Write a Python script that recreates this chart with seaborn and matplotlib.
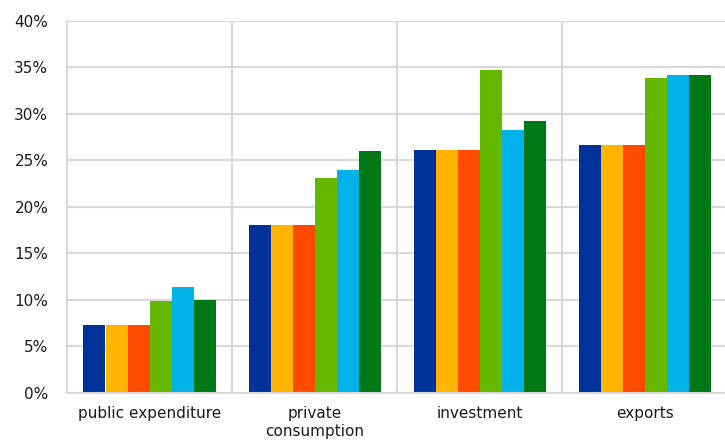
import matplotlib
matplotlib.use("Agg")
import matplotlib.pyplot as plt
import seaborn as sns
import pandas as pd
from matplotlib.ticker import FuncFormatter, MultipleLocator

categories = ["public expenditure", "private\nconsumption", "investment", "exports"]
series = ["s1", "s2", "s3", "s4", "s5", "s6"]
values = {
    "s1": [7.3, 18.0, 26.1, 26.6],
    "s2": [7.3, 18.0, 26.1, 26.6],
    "s3": [7.3, 18.0, 26.1, 26.6],
    "s4": [9.8, 23.1, 34.7, 33.9],
    "s5": [11.4, 24.0, 28.3, 34.2],
    "s6": [10.0, 26.0, 29.2, 34.2],
}
colors = ["#003299", "#FFB400", "#FF4B00", "#65B800", "#00B1EA", "#007816"]

rows = []
for s in series:
    for c, v in zip(categories, values[s]):
        rows.append({"category": c, "series": s, "value": v})
df = pd.DataFrame(rows)

sns.set_style("white")
plt.rcParams["font.family"] = ["DejaVu Sans"]

fig = plt.figure(figsize=(7.25, 4.44), dpi=100)
ax = fig.add_axes([67 / 725, (444 - 392.5) / 444, 660 / 725, 371.5 / 444])

sns.barplot(data=df, x="category", y="value", hue="series", order=categories,
            hue_order=series, palette=colors, width=0.8, saturation=1,
            ax=ax, legend=False, linewidth=0)

ax.set_ylim(0, 40)
ax.set_xlim(-0.5, 3.5)
ax.yaxis.set_major_locator(MultipleLocator(5))
ax.yaxis.set_major_formatter(FuncFormatter(lambda v, p: f"{int(v)}%"))
ax.set_axisbelow(True)
ax.grid(axis="y", color="#d9d9d9", linewidth=1.5)
for xb in [0.5, 1.5, 2.5]:
    ax.axvline(xb, color="#d9d9d9", linewidth=1.5, zorder=0)
for side in ["top", "right"]:
    ax.spines[side].set_visible(False)
for side in ["left", "bottom"]:
    ax.spines[side].set_color("#d9d9d9")
    ax.spines[side].set_linewidth(1.5)
ax.tick_params(axis="both", length=0, labelsize=11, colors="#1a1a1a")
ax.tick_params(axis="y", pad=13.5)
ax.tick_params(axis="x", pad=9.5)
ax.set_xlabel("")
ax.set_ylabel("")
for lbl in ax.get_xticklabels():
    lbl.set_linespacing(1.3)

fig.savefig("out.png", dpi=100)
